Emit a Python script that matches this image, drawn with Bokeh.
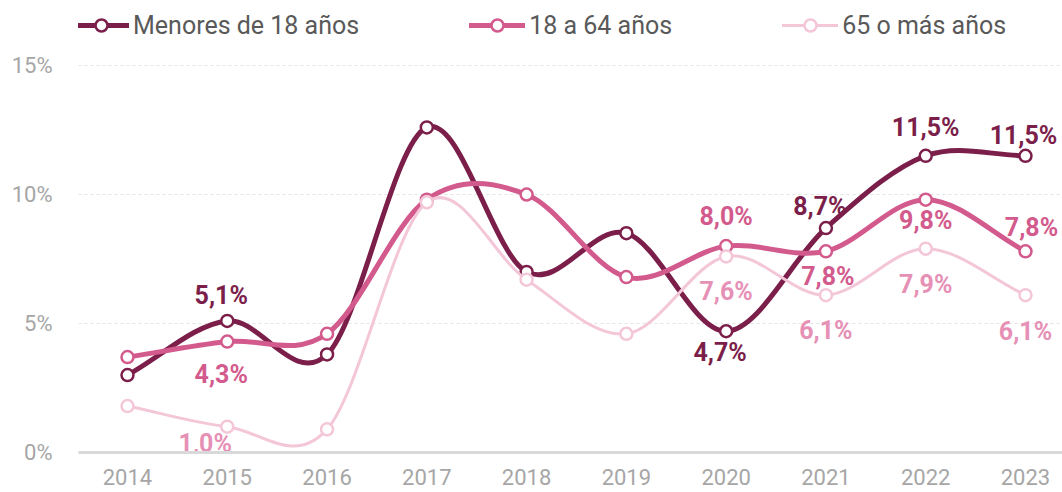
import numpy as np
from bokeh.plotting import figure
from bokeh.models import ColumnDataSource, FixedTicker, Legend, LegendItem, Range1d
from bokeh.core.properties import value
from bokeh.embed import file_html
from bokeh.resources import INLINE

# ---------------- data ----------------
years = [2014, 2015, 2016, 2017, 2018, 2019, 2020, 2021, 2022, 2023]
year_labels = ["2014", "2015", "2016", "2017", "2018", "2019", "2020", "2021", "2022", "2023"]
series_names = ["Menores de 18 años", "18 a 64 años", "65 o más años"]
menores = [3.0, 5.1, 3.8, 12.6, 7.0, 8.5, 4.7, 8.7, 11.5, 11.5]
adultos = [3.7, 4.3, 4.6, 9.8, 10.0, 6.8, 8.0, 7.8, 9.8, 7.8]
mayores = [1.8, 1.0, 0.9, 9.7, 6.7, 4.6, 7.6, 6.1, 7.9, 6.1]
y_ticks = [0, 5, 10, 15]
y_tick_labels = ["0%", "5%", "10%", "15%"]
labeled_years = [2015, 2020, 2021, 2022, 2023]

# ---------------- styles ----------------
line_colors = ["#7b1f4a", "#d35a8d", "#f3c6d8"]
label_colors = ["#7b1f4a", "#d35a8d", "#e690b6"]
line_widths = [5, 5, 3]
# per-label screen offsets (dx, dy), positive dy = down
label_offsets = [
    [(-6, -25), (-6, 21), (-6, -22), (0, -28), (-2, -20)],
    [(-6, 33), (0, -30), (2, 25), (0, 21), (6, -24)],
    [(-22, 17), (0, 35), (0, 35), (0, 36), (0, 36)],
]
FONT = "Roboto"

p = figure(width=1062, height=492, output_backend="svg", toolbar_location=None,
           x_range=Range1d(2013.509, 2023.371), y_range=Range1d(0, 17.52),
           min_border_left=78, min_border_right=0, min_border_top=0, min_border_bottom=40)
p.outline_line_color = None
p.background_fill_color = "white"

# axes
p.yaxis.ticker = FixedTicker(ticks=y_ticks)
p.yaxis.major_label_overrides = {t: l for t, l in zip(y_ticks, y_tick_labels)}
p.yaxis.axis_line_color = None
p.yaxis.major_tick_line_color = None
p.yaxis.minor_tick_line_color = None
p.yaxis.major_label_text_color = "#a6a6a6"
p.yaxis.major_label_text_font = FONT
p.yaxis.major_label_text_font_size = "22px"
p.yaxis.major_label_standoff = 20

p.xaxis.ticker = FixedTicker(ticks=years)
p.xaxis.major_label_overrides = {y: l for y, l in zip(years, year_labels)}
p.xaxis.axis_line_color = "#d9d9d9"
p.xaxis.axis_line_width = 3
p.xaxis.major_tick_line_color = None
p.xaxis.minor_tick_line_color = None
p.xaxis.major_label_text_color = "#a6a6a6"
p.xaxis.major_label_text_font = FONT
p.xaxis.major_label_text_font_size = "22px"
p.xaxis.major_label_standoff = 10

p.xgrid.grid_line_color = None
p.ygrid.ticker = FixedTicker(ticks=y_ticks)
p.ygrid.grid_line_color = "#e3e3e3"
p.ygrid.grid_line_dash = "3 3"
p.ygrid.grid_line_width = 1


def catmull(xs, ys):
    xs = np.asarray(xs, float)
    ys = np.asarray(ys, float)
    n = len(xs)
    m = np.zeros(n)
    m[1:-1] = (ys[2:] - ys[:-2]) / (xs[2:] - xs[:-2])
    m[0] = (ys[1] - ys[0]) / (xs[1] - xs[0])
    m[-1] = (ys[-1] - ys[-2]) / (xs[-1] - xs[-2])
    dx = xs[1:] - xs[:-1]
    return dict(x0=xs[:-1], y0=ys[:-1], x1=xs[1:], y1=ys[1:],
                cx0=xs[:-1] + dx / 3, cy0=ys[:-1] + m[:-1] * dx / 3,
                cx1=xs[1:] - dx / 3, cy1=ys[1:] - m[1:] * dx / 3)


all_series = [menores, adultos, mayores]
legend_items = []
for i, vals in enumerate(all_series):
    src = ColumnDataSource(catmull(years, vals))
    bz = p.bezier(x0="x0", y0="y0", x1="x1", y1="y1", cx0="cx0", cy0="cy0", cx1="cx1", cy1="cy1",
                  source=src, line_color=line_colors[i], line_width=line_widths[i], line_cap="round")
    sc = p.scatter(years, vals, marker="circle", size=12, fill_color="white",
                   line_color=line_colors[i], line_width=2.5)
    legend_items.append(LegendItem(label=series_names[i], renderers=[bz, sc]))

# data labels
for i, vals in enumerate(all_series):
    lx, ly, lt, dxs, dys = [], [], [], [], []
    for k, yr in enumerate(labeled_years):
        v = vals[years.index(yr)]
        lx.append(yr)
        ly.append(v)
        lt.append(f"{v:.1f}%".replace(".", ","))
        dxs.append(label_offsets[i][k][0])
        dys.append(label_offsets[i][k][1])
    lsrc = ColumnDataSource(dict(x=lx, y=ly, text=lt, dx=dxs, dy=dys))
    p.text(x="x", y="y", text="text", x_offset="dx", y_offset="dy", source=lsrc,
           text_font=value(FONT), text_font_style="bold", text_font_size="25px",
           text_color=label_colors[i], text_align="center", text_baseline="middle")

legend = Legend(items=legend_items, orientation="horizontal", location=(-5, 412),
                glyph_width=56, glyph_height=30, label_standoff=4, spacing=110,
                padding=0, margin=0, background_fill_alpha=0, border_line_alpha=0,
                label_text_font=FONT, label_text_font_size="25px", label_text_color="#595959")
p.add_layout(legend)

open("out.html", "w").write(file_html(p, INLINE))
